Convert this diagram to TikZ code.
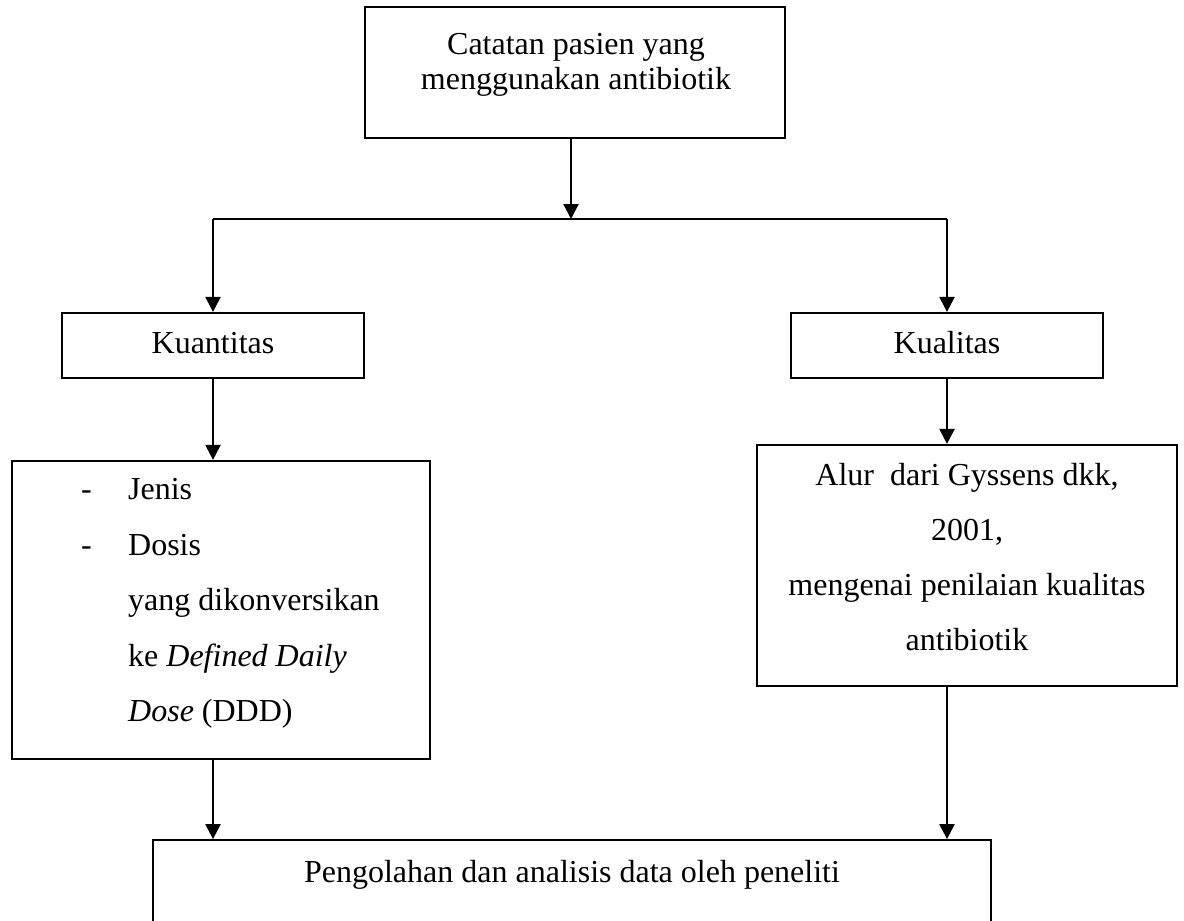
\documentclass[tikz,border=0pt]{standalone}
\usepackage{fontspec}
\setmainfont{Liberation Serif}
\usetikzlibrary{arrows.meta}
\begin{document}
\begin{tikzpicture}[x=1pt,y=-1pt,
  box/.style={draw, line width=2.2pt, inner sep=0pt},
  txt/.style={inner sep=0pt, font=\fontsize{32}{35}\selectfont},
  wide/.style={inner sep=0pt, font=\fontsize{32}{55.5}\selectfont},
  arr/.style={line width=2.2pt, -{Triangle[length=15pt,width=15pt]}},
  ln/.style={line width=2.2pt}]
\useasboundingbox (0,0) rectangle (1184,921);
\clip (0,0) rectangle (1184,921);
% boxes
\node[box, minimum width=420pt, minimum height=131pt] (top) at (575,72.5) {};
\node[box, minimum width=302pt, minimum height=65pt] (kuan) at (213,345.5) {};
\node[box, minimum width=312pt, minimum height=65pt] (kual) at (947,345.5) {};
\node[box, minimum width=418pt, minimum height=298pt] (lbox) at (221,610) {};
\node[box, minimum width=420pt, minimum height=241pt] (rbox) at (967,565.5) {};
\node[box, line width=1.8pt, minimum width=838pt, minimum height=200pt] (bot) at (572,940) {};
% texts
\node[txt, anchor=north, align=center] (toptext) at (576,33) {Catatan pasien yang\\menggunakan antibiotik};
\node[txt, anchor=base] (kuantext) at (213,353) {Kuantitas};
\node[txt, anchor=base] (kualtext) at (947,353) {Kualitas};
\node[wide, anchor=north west, align=left] (ltext) at (81,478.5) {\makebox[47pt][l]{-}Jenis\\
\makebox[47pt][l]{-}Dosis\\
\hspace*{47pt}yang dikonversikan\\
\hspace*{47pt}ke \textit{Defined Daily}\\
\hspace*{47pt}\textit{Dose} (DDD)};
\node[wide, anchor=north, align=center, font=\fontsize{32}{55}\selectfont] (rtext) at (967,463) {Alur\ \ dari Gyssens dkk,\\2001,\\mengenai penilaian kualitas\\antibiotik};
\node[txt, anchor=base] (bottext) at (572,882) {Pengolahan dan analisis data oleh peneliti};
% connectors
\coordinate (j) at (571,219);
\coordinate (jl) at (213,219);
\coordinate (jr) at (947,219);
\draw[arr] (top.south -| j) -- (j);
\draw[ln] (jl) -- (jr);
\draw[arr] (jl) -- (kuan.north);
\draw[arr] (jr) -- (kual.north);
\draw[arr] (kuan.south) -- (kuan.south |- lbox.north);
\draw[arr] (kual.south) -- (kual.south |- rbox.north);
\draw[arr] (kuan.south |- lbox.south) -- (kuan.south |- bot.north);
\draw[arr] (kual.south |- rbox.south) -- (kual.south |- bot.north);
\end{tikzpicture}
\end{document}
